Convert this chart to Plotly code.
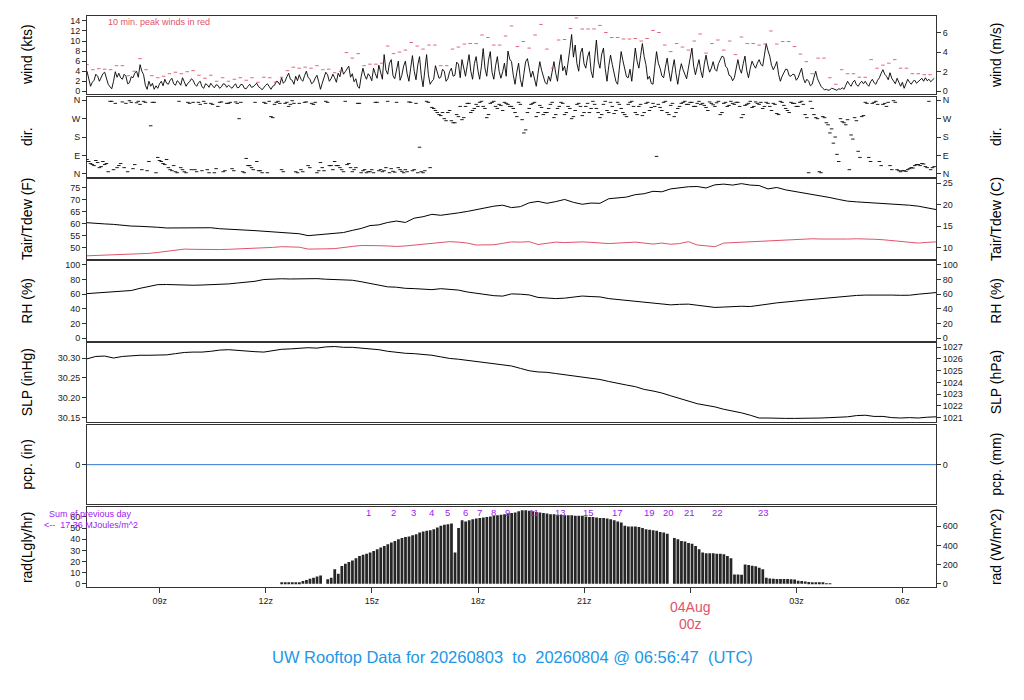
import numpy as np
import plotly.graph_objects as go

# ---------------- data ----------------
T0 = 6 + 56/60 + 47/3600          # 2026-08-03 06:56:47 UTC in hours
T1 = T0 + 24.0

# wind speed (kts), 3-minute samples (20 per hour)
wind_kts = [
    4.0,2.5,1.0,1.8,2.2,3.4,3.0,2.0,2.8,3.5,3.8,2.6,1.4,0.9,0.5,2.0,3.9,2.8,3.6,2.7,
    2.4,3.4,3.0,1.5,1.7,2.9,2.7,3.6,4.0,2.8,5.3,4.0,3.3,1.2,0.4,2.0,1.0,1.6,0.4,1.1,
    0.6,1.5,2.0,1.1,2.4,1.6,1.4,2.2,2.6,1.5,1.2,2.1,1.8,1.2,2.7,1.9,1.0,1.6,1.9,2.5,
    2.2,1.4,1.0,1.7,2.0,0.9,0.6,1.5,1.3,0.8,1.6,1.1,0.7,1.3,1.2,0.6,0.9,1.5,1.4,0.8,
    1.2,0.9,0.6,1.1,1.5,0.7,0.8,1.4,1.3,0.6,0.5,1.0,1.4,0.8,0.9,1.3,1.6,0.9,0.7,0.3,
    0.8,1.2,1.5,0.9,0.4,1.0,1.2,2.0,1.9,1.3,2.7,1.6,2.0,2.9,3.6,2.4,2.2,1.4,3.0,2.1,
    3.3,2.4,2.0,3.1,4.0,2.8,2.4,1.5,1.8,2.6,3.2,1.9,0.4,1.6,2.9,3.8,3.3,2.0,2.5,3.4,
    2.7,1.8,3.6,2.9,4.8,3.4,3.9,4.6,5.0,2.8,3.5,1.9,2.5,1.0,0.6,2.9,4.6,3.2,2.4,3.5,
    3.0,2.1,4.6,3.5,2.6,5.2,3.8,2.4,7.3,4.2,3.4,5.6,6.3,3.1,2.5,4.4,6.0,2.2,3.2,5.0,
    6.0,3.5,2.0,4.6,7.1,4.0,2.3,5.2,6.9,3.1,0.9,4.2,7.3,3.3,1.4,2.0,2.4,5.1,3.7,2.6,
    2.8,4.4,4.0,2.0,2.5,3.9,4.6,3.0,3.2,5.8,5.4,2.7,6.3,4.4,3.0,5.2,7.3,4.0,2.4,5.5,
    6.9,4.2,2.4,5.0,8.5,4.6,3.0,6.2,7.9,3.8,2.4,5.1,6.9,4.0,2.6,3.9,5.6,3.0,8.0,6.4,
    5.9,3.2,1.4,3.8,5.6,2.4,0.9,3.5,5.9,6.5,4.6,2.8,4.0,2.2,1.0,3.6,5.9,4.2,3.0,1.8,
    1.4,3.0,2.0,4.4,5.9,3.6,2.0,5.2,7.3,4.1,5.0,3.2,6.5,8.4,11.3,6.8,9.2,5.5,4.0,7.6,
    8.6,5.5,4.6,6.8,7.9,4.0,2.7,6.5,10.2,6.0,4.6,7.4,8.6,4.5,2.0,5.1,7.2,5.3,3.2,2.0,
    1.4,4.6,7.9,6.1,4.6,2.9,2.7,4.4,2.0,5.5,8.6,6.0,4.6,7.1,9.5,6.9,5.3,2.4,3.0,1.6,
    1.4,4.8,7.9,5.6,4.6,3.1,2.7,4.8,6.6,4.0,2.0,4.4,6.3,3.5,1.4,3.8,5.5,4.3,3.3,2.5,
    4.6,6.9,8.6,5.0,3.3,4.9,6.3,4.1,2.7,5.4,7.2,5.2,3.8,4.6,5.9,4.4,4.0,5.5,6.2,7.0,
    6.8,5.0,4.6,3.2,3.0,2.1,2.7,4.8,6.3,4.5,3.6,5.5,7.0,4.1,2.7,4.6,6.0,5.2,4.6,5.6,
    6.3,5.4,5.0,7.2,9.5,8.1,7.0,5.2,4.3,5.0,5.9,3.4,2.0,3.0,3.7,4.4,4.3,3.1,3.0,3.4,
    3.3,2.2,2.7,3.9,4.6,2.6,1.7,2.4,2.0,1.1,1.4,2.8,4.0,2.5,1.7,1.0,0.6,0.3,0.4,0.2,
    0.3,0.6,0.5,0.3,0.2,0.5,0.4,0.7,0.4,1.2,2.0,1.4,1.0,1.8,2.2,1.3,1.0,1.6,2.0,1.5,
    2.0,1.4,1.0,1.9,2.4,1.7,1.4,2.2,2.7,3.6,4.3,3.4,3.0,2.3,3.7,2.6,2.0,1.5,2.6,1.7,
    1.0,1.8,0.6,1.5,2.4,1.8,1.4,2.0,2.2,1.6,2.0,2.4,2.6,2.0,2.7,2.1,2.4,1.9,2.2,2.6,
]

# 10-minute peak winds (kts)
peak_kts = [
    5.3,4.3,4.5,4.4,4.3,5.1,5.1,3.1,4.0,6.5,4.3,3.1,
    2.7,3.0,3.5,3.8,3.5,3.9,4.1,3.2,2.6,3.2,2.0,2.7,
    2.0,2.4,2.7,2.2,2.7,1.8,2.8,2.7,1.8,2.8,4.1,4.8,
    4.6,4.8,4.6,5.1,4.3,4.4,3.7,4.0,7.7,6.6,7.5,5.1,
    5.4,5.4,5.6,9.0,7.5,7.8,8.2,9.7,9.0,8.4,9.2,9.2,
    5.1,5.1,8.4,8.8,9.4,9.5,9.5,11.2,10.7,9.2,9.2,11.0,
    13.0,8.9,9.9,8.6,11.2,13.3,8.4,4.6,10.2,10.3,12.5,14.6,
    12.4,12.4,12.4,13.1,11.7,10.7,10.7,10.4,10.4,10.5,10.0,10.5,
    12.1,11.7,9.2,7.9,9.5,8.8,8.2,10.0,11.4,7.6,9.5,10.2,
    8.2,10.0,7.3,10.8,9.5,9.5,9.2,9.4,12.0,9.4,9.9,9.9,
    8.9,7.4,5.9,3.5,6.6,6.6,2.7,1.4,4.3,3.5,3.5,2.8,
    2.8,6.3,4.6,5.2,5.6,6.3,4.6,4.6,3.5,3.5,3.3,3.3,
]

# wind direction (deg), 3-minute samples (20 per hour)
wind_dir = [
    70,60,50,45,40,65,55,30,35,60,45,50,10,355,355,20,345,30,40,50,
    352,30,345,10,358,350,25,45,348,355,340,20,355,350,15,60,235,350,350,5,
    80,65,60,50,45,70,30,20,15,40,10,5,355,30,20,10,5,350,345,20,
    350,20,10,350,340,15,355,345,20,5,345,340,5,25,330,350,352,10,15,345,
    345,350,25,15,352,345,270,350,10,5,75,40,40,30,20,350,60,15,15,5,
    350,345,5,355,280,275,340,350,355,345,20,10,345,350,330,340,358,345,10,5,
    345,20,10,350,352,40,30,345,340,350,5,15,55,30,15,355,350,40,40,20,
    60,40,40,30,20,10,355,45,50,30,10,20,30,345,345,5,15,20,5,10,
    10,20,5,350,350,15,20,10,15,30,355,5,25,12,8,350,30,20,12,5,
    20,10,352,350,15,20,345,5,130,10,5,15,355,350,30,325,320,310,300,290,
    285,300,270,260,300,310,260,250,250,290,280,330,265,275,330,345,345,300,310,320,
    340,330,350,355,330,320,275,290,345,350,355,330,320,340,335,310,350,345,340,330,
    330,320,300,280,350,340,265,200,215,300,320,340,345,350,280,300,335,325,290,300,
    300,320,340,350,275,290,320,330,350,345,290,300,330,320,270,280,310,340,345,330,
    285,300,330,345,300,320,355,340,320,300,275,290,340,355,310,300,350,330,295,310,
    350,340,320,300,290,280,340,350,355,330,300,290,330,340,285,300,345,350,310,325,
    345,330,85,340,325,310,350,355,300,290,335,345,280,300,320,330,345,350,355,340,
    340,350,350,330,330,345,355,340,345,335,325,310,352,345,338,330,348,355,290,300,
    345,350,330,335,355,345,340,350,350,330,275,290,335,340,345,355,325,330,352,345,
    340,350,320,330,350,345,330,310,345,340,295,290,355,350,335,320,310,300,350,345,
    345,330,330,350,355,340,290,275,5,355,320,290,275,270,10,5,280,275,250,240,
    200,220,150,180,95,60,270,255,250,240,265,20,190,170,275,260,110,80,280,285,
    350,345,80,60,345,350,355,340,60,40,340,345,330,350,40,20,358,350,20,15,
    10,15,15,12,20,25,30,28,40,45,45,40,50,48,35,30,355,20,30,35,
]

# 15-minute samples
tair_f = [
    60.5,60.4,60.0,59.8,59.4,59.1,59.0,58.9,58.6,58.3,58.3,58.2,58.1,58.2,58.4,58.0,
    57.7,57.4,57.4,57.2,56.9,56.7,56.5,56.3,55.9,55.1,55.4,55.9,56.0,56.4,57.3,58.1,
    59.3,59.6,60.6,61.2,60.6,62.4,63.0,64.0,63.6,64.0,64.6,65.2,66.0,66.6,67.4,67.8,
    66.8,67.2,68.8,69.4,68.6,69.3,70.2,69.0,68.2,68.7,68.6,70.5,71.0,71.2,72.2,72.6,
    73.6,73.4,74.6,75.2,75.5,75.6,75.0,76.3,76.6,76.2,76.8,76.2,76.0,74.6,75.2,74.2,
    73.6,73.0,72.2,71.8,71.0,70.2,69.5,69.2,69.0,68.8,68.6,68.4,68.0,67.8,67.4,66.6,
    66.0,
]
tdew_f = [
    46.7,46.8,46.9,47.0,47.1,47.3,47.4,47.7,48.1,48.6,49.3,49.5,49.4,49.3,49.2,49.3,
    49.4,49.5,49.7,49.8,49.9,50.2,50.5,50.5,50.3,49.5,49.4,49.6,49.7,50.0,50.6,51.0,
    51.1,50.9,50.8,50.6,50.8,51.2,51.6,52.0,52.5,52.6,52.4,52.0,51.2,51.1,51.3,51.9,
    52.5,52.4,52.6,51.4,52.0,52.4,52.2,52.4,52.5,52.3,52.0,51.8,52.0,52.2,52.4,52.0,
    51.6,52.0,51.5,51.8,52.6,51.2,50.8,50.5,52.0,52.2,52.4,52.6,52.8,53.0,53.1,53.4,
    53.7,53.8,53.8,53.7,53.6,53.6,53.7,53.8,53.8,53.6,53.4,53.0,52.7,52.2,52.0,52.3,
    52.5,
]
rh_pct = [
    60.8,61.5,62.3,63.0,63.6,65.0,68.0,71.0,73.0,73.2,72.6,72.3,72.2,72.5,72.8,73.2,
    74.0,75.2,76.0,77.6,80.0,80.8,81.0,80.7,81.0,81.5,81.2,80.4,80.0,79.7,79.0,77.0,
    74.8,72.5,70.0,69.5,68.0,67.6,67.0,66.2,67.5,67.0,65.6,63.0,61.0,59.3,58.0,57.4,
    60.4,60.0,59.0,55.6,54.5,54.0,54.6,56.5,57.5,56.8,56.3,54.0,52.8,52.0,50.8,49.5,
    48.6,47.5,45.5,46.2,46.5,45.0,43.4,42.0,42.5,43.2,43.6,43.2,44.5,46.5,48.2,49.0,
    50.5,51.8,53.0,53.8,55.0,56.6,57.8,58.3,58.8,59.0,59.0,58.8,58.5,58.6,60.0,61.3,
    62.2,
]
slp_inhg = [
    30.298,30.304,30.305,30.300,30.304,30.306,30.307,30.307,30.308,30.308,30.311,30.314,
    30.315,30.315,30.317,30.320,30.321,30.319,30.317,30.316,30.315,30.319,30.322,30.323,
    30.324,30.326,30.325,30.328,30.329,30.327,30.327,30.325,30.323,30.321,30.317,30.314,
    30.312,30.311,30.309,30.307,30.303,30.299,30.297,30.294,30.291,30.288,30.285,30.282,
    30.280,30.274,30.268,30.265,30.264,30.261,30.258,30.255,30.253,30.250,30.246,30.241,
    30.236,30.232,30.228,30.221,30.217,30.212,30.205,30.198,30.191,30.185,30.181,30.177,
    30.171,30.167,30.162,30.156,30.149,30.149,30.148,30.148,30.148,30.148,30.149,30.149,
    30.150,30.151,30.152,30.155,30.156,30.153,30.153,30.150,30.149,30.150,30.149,30.151,
    30.152,
]

# hourly precipitation (in)
pcp_in = [0.0]*25

# solar radiation (Langley/hr), 6-minute bars starting 12:27 UTC
RAD_START = 12.45
rad_ly = [
    0.5,0.6,0.8,1.0,1.0,1.2,2.5,3.5,4.5,5.5,6.5,7.5,0.0,4.0,5.5,13.0,9.0,16.0,18.0,19.5,
    21.0,23.0,25.0,26.0,27.0,28.0,29.5,31.0,32.5,34.0,35.5,37.0,38.5,40.0,41.0,42.0,42.5,43.5,44.5,46.0,
    47.0,47.5,48.0,49.0,50.5,52.0,53.0,53.5,54.0,28.0,50.0,57.0,56.0,57.0,58.0,58.5,59.0,59.5,60.0,60.5,
    61.0,61.5,62.0,62.5,63.0,63.5,64.0,65.0,66.0,66.0,65.5,65.0,64.5,64.0,63.5,63.0,62.5,62.5,62.0,62.0,
    61.5,61.5,61.5,61.0,61.0,61.0,60.5,60.0,60.0,59.5,59.0,59.0,58.5,58.0,57.0,56.0,55.0,52.0,51.5,51.5,
    51.5,51.0,50.0,49.0,48.5,48.0,47.5,46.5,46.0,45.0,0.0,41.0,40.0,38.5,38.0,36.5,36.0,34.0,31.0,28.0,
    27.5,27.5,27.5,27.0,27.0,26.5,25.0,23.0,8.3,8.3,8.0,17.3,16.8,16.2,15.8,14.5,13.0,5.4,4.8,4.5,
    4.4,4.3,4.2,4.2,4.0,3.8,2.8,2.4,2.0,1.5,0.9,0.6,0.5,0.4,0.3,0.2,
]

# hourly radiation marker labels (UTC hours where they sit)
radlab_hours = [14.91,15.61,16.18,16.69,17.14,17.65,18.04,18.44,18.84,19.57,20.33,21.13,21.95,22.85,23.39,23.98,24.77,26.07]
radlab_text = ["1","2","3","4","5","6","7","8","9","11","13","15","17","19","20","21","22","23"]

xtick_hours = [9, 12, 15, 18, 21, 24, 27, 30]
xtick_text = ["09z", "12z", "15z", "18z", "21z", "", "03z", "06z"]

# time grids
t_wind = T0 + 0.05*np.arange(len(wind_kts))
t_peak = T0 + np.arange(len(peak_kts))/6.0
t_dir = T0 + 0.05*np.arange(len(wind_dir))
t_15 = T0 + 0.25*np.arange(len(tair_f))
t_pcp = T0 + 1.0*np.arange(len(pcp_in))
t_rad = RAD_START + 0.1*np.arange(len(rad_ly))

# ---------------- figure ----------------
W, H = 1024, 700
XL, XR = 87, 936
FONT = "Liberation Sans, Arial, sans-serif"
RED = "#DF536B"
PURPLE = "#A020F0"
BLUE = "#2297E6"
LINEC = "#333333"

panels = [  # (top px, bottom px)
    (14, 93), (96, 176), (178, 259), (261, 341), (343, 423), (426, 506), (509, 589)
]

def ydom(top, bot):
    return [1 - bot/H, 1 - top/H]

fig = go.Figure()

# 1 wind
fig.add_trace(go.Scatter(x=t_wind, y=wind_kts, mode="lines", line=dict(color="black", width=0.9),
                         xaxis="x", yaxis="y", showlegend=False, hoverinfo="skip"))
fig.add_trace(go.Scatter(x=t_peak, y=peak_kts, mode="markers",
                         marker=dict(symbol="line-ew", size=2.5, line=dict(color=RED, width=0.9)),
                         xaxis="x", yaxis="y", showlegend=False, hoverinfo="skip"))
# 2 dir
fig.add_trace(go.Scatter(x=t_dir, y=wind_dir, mode="markers",
                         marker=dict(symbol="line-ew", size=2.5, line=dict(color="black", width=0.9)),
                         xaxis="x2", yaxis="y2", showlegend=False, hoverinfo="skip"))
# 3 temps
fig.add_trace(go.Scatter(x=t_15, y=tair_f, mode="lines", line=dict(color="black", width=1),
                         xaxis="x3", yaxis="y3", showlegend=False, hoverinfo="skip"))
fig.add_trace(go.Scatter(x=t_15, y=tdew_f, mode="lines", line=dict(color=RED, width=1),
                         xaxis="x3", yaxis="y3", showlegend=False, hoverinfo="skip"))
# 4 RH
fig.add_trace(go.Scatter(x=t_15, y=rh_pct, mode="lines", line=dict(color="black", width=1),
                         xaxis="x4", yaxis="y4", showlegend=False, hoverinfo="skip"))
# 5 SLP
fig.add_trace(go.Scatter(x=t_15, y=slp_inhg, mode="lines", line=dict(color="black", width=1),
                         xaxis="x5", yaxis="y5", showlegend=False, hoverinfo="skip"))
# 6 pcp
fig.add_trace(go.Scatter(x=t_pcp, y=pcp_in, mode="lines", line=dict(color="#3578D0", width=1),
                         xaxis="x6", yaxis="y6", showlegend=False, hoverinfo="skip"))
# 7 rad
fig.add_trace(go.Bar(x=t_rad, y=rad_ly, marker=dict(color="#262626", line=dict(width=0)),
                     xaxis="x7", yaxis="y7", showlegend=False, hoverinfo="skip"))

# dummy traces to register right-hand axes
for i in range(1, 8):
    fig.add_trace(go.Scatter(x=[None], y=[None], xaxis=f"x{i}" if i > 1 else "x",
                             yaxis=f"y{i+7}", showlegend=False, hoverinfo="skip"))

LY2W = 11.622
left_specs = [
    dict(range=[-0.6, 15.0], tickvals=list(range(0, 15, 2))),
    dict(range=[-14.6, 374.6], tickvals=[360, 270, 180, 90, 0], ticktext=["N", "W", "S", "E", "N"]),
    dict(range=[45.3, 78.85], tickvals=[50, 55, 60, 65, 70, 75]),
    dict(range=[-3.1, 105], tickvals=[0, 20, 40, 60, 80, 100]),
    dict(range=[30.139, 30.339], tickvals=[30.15, 30.20, 30.25, 30.30],
         ticktext=["30.15", "30.20", "30.25", "30.30"]),
    dict(range=[-1, 1], tickvals=[0]),
    dict(range=[-2.7, 68.6], tickvals=[0, 10, 20, 30, 40, 50, 60]),
]
right_specs = [
    dict(range=[-0.6/1.94384, 15.0/1.94384], tickvals=[0, 2, 4, 6]),
    dict(range=[-14.6, 374.6], tickvals=[360, 270, 180, 90, 0], ticktext=["N", "W", "S", "E", "N"]),
    dict(range=[(45.3-32)/1.8, (78.85-32)/1.8], tickvals=[10, 15, 20, 25]),
    dict(range=[-3.1, 105], tickvals=[0, 20, 40, 60, 80, 100]),
    dict(range=[30.139*33.8639, 30.339*33.8639], tickvals=[1021, 1022, 1023, 1024, 1025, 1026, 1027]),
    dict(range=[-1, 1], tickvals=[0]),
    dict(range=[-2.7*LY2W, 68.6*LY2W], tickvals=[0, 200, 400, 600]),
]

tickfont = dict(family=FONT, size=9, color="#222222")
layout = dict(
    width=W, height=H, margin=dict(l=0, r=0, t=0, b=0),
    paper_bgcolor="white", plot_bgcolor="white",
    bargap=0.22, showlegend=False, font=dict(family=FONT),
)
for i, (top, bot) in enumerate(panels, start=1):
    xn = "xaxis" if i == 1 else f"xaxis{i}"
    xa = dict(domain=[XL/W, XR/W], anchor=f"y{i}", range=[T0, T1],
              showline=True, mirror=True, linecolor=LINEC, linewidth=1,
              showgrid=False, zeroline=False, fixedrange=True)
    if i == 7:
        xa.update(ticks="outside", ticklen=5, tickcolor=LINEC, tickvals=xtick_hours,
                  ticktext=xtick_text, tickfont=tickfont)
    else:
        xa.update(showticklabels=False, ticks="")
    layout[xn] = xa
    ls = left_specs[i-1]
    ya = dict(domain=ydom(top, bot), anchor="x" if i == 1 else f"x{i}",
              showline=True, mirror=True, linecolor=LINEC, linewidth=1,
              showgrid=False, zeroline=False, ticks="outside", ticklen=4, tickcolor=LINEC,
              tickfont=tickfont, fixedrange=True, **ls)
    layout[f"yaxis{i}"] = ya
    rs = right_specs[i-1]
    yr = dict(overlaying=f"y{i}", anchor="x" if i == 1 else f"x{i}", side="right",
              showline=False, showgrid=False, zeroline=False, ticks="outside", ticklen=4,
              tickcolor=LINEC, tickfont=tickfont, fixedrange=True, **rs)
    layout[f"yaxis{i+7}"] = yr

fig.update_layout(**layout)

left_titles = ["wind (kts)", "dir.", "Tair/Tdew (F)", "RH (%)", "SLP (inHg)", "pcp. (in)", "rad(Lgly/hr)"]
right_titles = ["wind (m/s)", "dir.", "Tair/Tdew (C)", "RH (%)", "SLP (hPa)", "pcp. (mm)", "rad (W/m^2)"]
ann = []
for i, (top, bot) in enumerate(panels):
    yc = 1 - (top + bot)/2/H
    ann.append(dict(text=left_titles[i], x=27/W, y=yc, xref="paper", yref="paper", textangle=-90,
                    showarrow=False, font=dict(family=FONT, size=14, color="black"),
                    xanchor="center", yanchor="middle"))
    ann.append(dict(text=right_titles[i], x=996/W, y=yc, xref="paper", yref="paper", textangle=-90,
                    showarrow=False, font=dict(family=FONT, size=14, color="black"),
                    xanchor="center", yanchor="middle"))

ann.append(dict(text="10 min. peak winds in red", x=106/W, y=1-20/H, xref="paper", yref="paper",
                showarrow=False, xanchor="left", yanchor="middle", font=dict(family=FONT, size=9, color=RED)))
ann.append(dict(text="Sum of previous day", x=90/W, y=1-516/H, xref="paper", yref="paper",
                showarrow=False, xanchor="center", yanchor="middle", font=dict(family=FONT, size=9, color=PURPLE)))
ann.append(dict(text="<--  17.36 MJoules/m^2", x=91/W, y=1-527/H, xref="paper", yref="paper",
                showarrow=False, xanchor="center", yanchor="middle", font=dict(family=FONT, size=9, color=PURPLE)))
for h, s in zip(radlab_hours, radlab_text):
    ann.append(dict(text=s, x=h, y=63.6, xref="x7", yref="y7", showarrow=False,
                    xanchor="center", yanchor="middle", font=dict(family=FONT, size=9.5, color=PURPLE)))
ann.append(dict(text="04Aug", x=24, y=1-609/H, xref="x7", yref="paper", showarrow=False,
                xanchor="center", yanchor="middle", font=dict(family=FONT, size=14, color=RED)))
ann.append(dict(text="00z", x=24, y=1-626/H, xref="x7", yref="paper", showarrow=False,
                xanchor="center", yanchor="middle", font=dict(family=FONT, size=14, color=RED)))
ann.append(dict(text="UW Rooftop Data for 20260803 \u00a0to \u00a020260804 @ 06:56:47 \u00a0(UTC)",
                x=512/W, y=1-660/H, xref="paper", yref="paper", showarrow=False,
                xanchor="center", yanchor="middle", font=dict(family=FONT, size=16.5, color=BLUE)))
fig.update_layout(annotations=ann)

fig.write_html("out.html", config={"displayModeBar": False},
               post_script="document.body.style.margin='0';document.body.style.padding='0';")
